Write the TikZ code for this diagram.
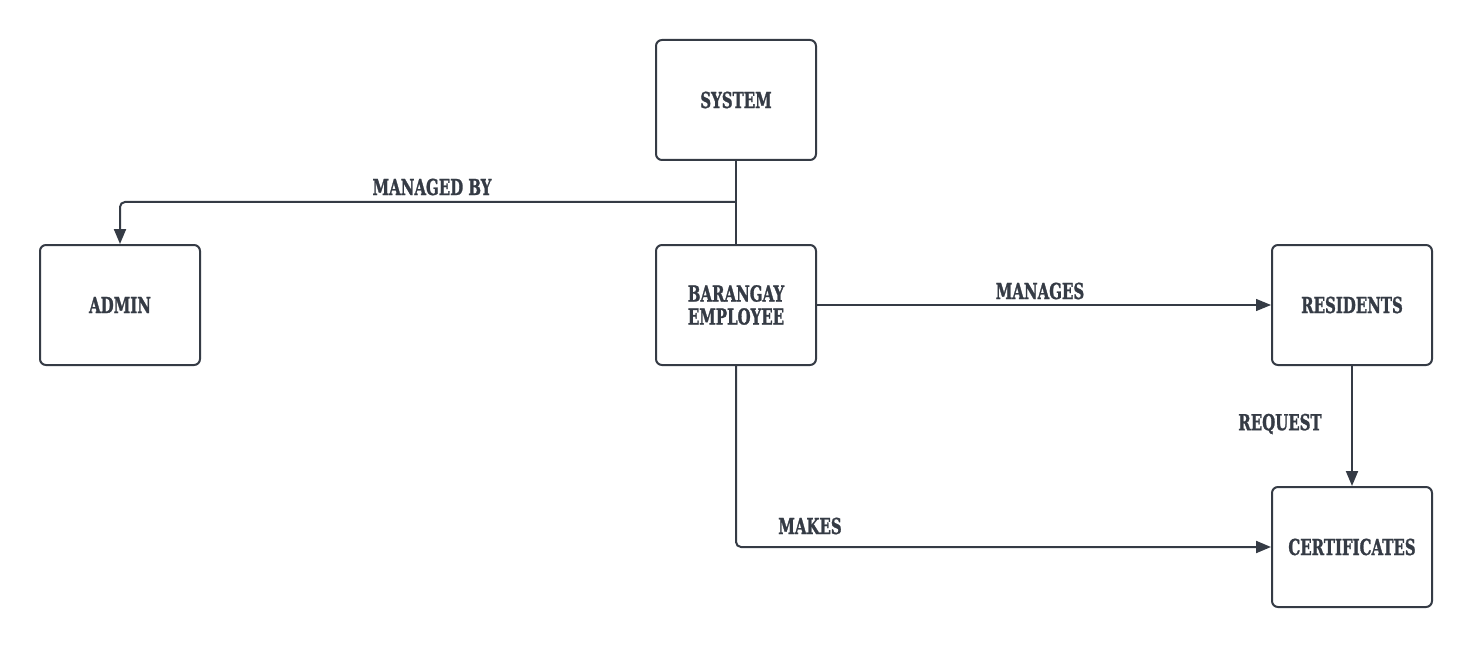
\documentclass[tikz,border=0pt]{standalone}
\usepackage{fontspec}
\newfontfamily\labfont[FakeStretch=0.68,BoldFeatures={FakeBold=1.2}]{DejaVu Serif}
\usetikzlibrary{arrows.meta}
\definecolor{ink}{HTML}{353B45}
\tikzset{
  box/.style={draw=ink, line width=2pt, rounded corners=6pt, minimum width=160pt, minimum height=120pt, inner sep=0pt, align=center, font=\labfont\bfseries\fontsize{22}{23}\selectfont, text=ink},
  conn/.style={draw=ink, line width=2pt, rounded corners=5pt},
  tip/.style={-{Triangle[length=15pt,width=12pt]}},
  lab/.style={font=\labfont\bfseries\fontsize{22}{23}\selectfont, text=ink, inner sep=0pt}
}
\begin{document}
\begin{tikzpicture}[x=1pt,y=-1pt]
\useasboundingbox[fill=white] (0,0) rectangle (1472,647);
\node[box] (system) at (736,100) {SYSTEM};
\node[box] (admin) at (120,305) {ADMIN};
\node[box] (emp) at (736,305) {BARANGAY\\EMPLOYEE};
\node[box] (res) at (1352,305) {RESIDENTS};
\node[box] (cert) at (1352,547) {CERTIFICATES};
\coordinate (j) at (736,202);
\draw[conn] (system.south) -- (emp.north);
\draw[conn,tip] (j) -| (admin.north);
\draw[draw=ink, line width=1.2pt, tip] (emp.east) -- (res.west);
\draw[conn,tip] (res.south) -- (cert.north);
\draw[conn,tip] (emp.south) |- (cert.west);
\node[lab] (l1) at (432,187) {MANAGED BY};
\node[lab] (l2) at (1040,291) {MANAGES};
\node[lab] (l3) at (1280,424) {REQUEST};
\node[lab] (l4) at (810,526) {MAKES};
\end{tikzpicture}
\end{document}
